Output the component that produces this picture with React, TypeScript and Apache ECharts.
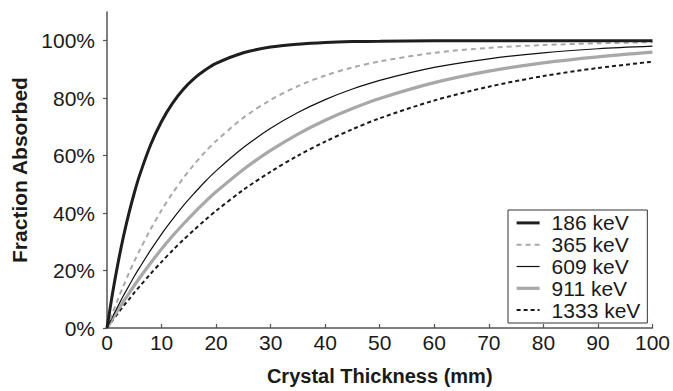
import React, { useEffect, useRef } from "react";
import * as echarts from "echarts";

const thickness = [0, 1, 2, 3, 4, 5, 6, 8, 10, 12, 14, 16, 18, 20, 25, 30, 35, 40, 45, 50, 60, 70, 80, 90, 100];
const kev186 = [0, 11.9, 22.4, 31.7, 39.8, 47.0, 53.3, 63.8, 71.9, 78.2, 83.1, 86.9, 89.8, 92.1, 95.8, 97.8, 98.8, 99.4, 99.7, 99.8, 100, 100, 100, 100, 100];
const kev365 = [0, 5.1, 10.0, 14.6, 19.0, 23.2, 27.1, 34.4, 41.0, 46.9, 52.2, 57.0, 61.3, 65.1, 73.2, 79.4, 84.2, 87.9, 90.7, 92.8, 95.8, 97.5, 98.5, 99.1, 99.5];
const kev609 = [0, 3.9, 7.6, 11.2, 14.6, 18.0, 21.1, 27.1, 32.7, 37.8, 42.6, 46.9, 51.0, 54.7, 62.8, 69.5, 75.0, 79.5, 83.2, 86.2, 90.7, 93.7, 95.8, 97.2, 98.1];
const kev911 = [0, 3.2, 6.2, 9.2, 12.0, 14.8, 17.5, 22.6, 27.5, 32.0, 36.2, 40.2, 43.9, 47.4, 55.2, 61.8, 67.5, 72.3, 76.4, 79.9, 85.4, 89.4, 92.3, 94.4, 96.0];
const kev1333 = [0, 2.6, 5.1, 7.6, 9.9, 12.3, 14.5, 18.9, 23.0, 27.0, 30.7, 34.2, 37.6, 40.8, 48.1, 54.4, 60.0, 64.9, 69.2, 73.0, 79.2, 84.0, 87.7, 90.5, 92.7];
const seriesNames = ["186 keV", "365 keV", "609 keV", "911 keV", "1333 keV"];
const yTicks = [0, 20, 40, 60, 80, 100];

const FONT = "'Liberation Sans', Arial, sans-serif";

export default function App() {
  const ref = useRef<HTMLDivElement>(null);
  useEffect(() => {
    if (!ref.current) return;
    const chart = echarts.init(ref.current, null, { renderer: "svg" });
    const pair = (arr: number[]) => thickness.map((x, i) => [x, arr[i]]);
    const styles: any[] = [
      { color: "#1e1e1e", width: 3, type: "solid" },
      { color: "#a8a8a8", width: 2, type: [5, 4] },
      { color: "#111111", width: 1.2, type: "solid" },
      { color: "#a8a8a8", width: 3.2, type: "solid" },
      { color: "#1a1a1a", width: 2, type: [4, 3] },
    ];
    const data = [kev186, kev365, kev609, kev911, kev1333];
    chart.setOption({
      animation: false,
      backgroundColor: "#ffffff",
      textStyle: { fontFamily: FONT },
      grid: { left: 107, right: 20, top: 12, bottom: 59, containLabel: false },
      legend: {
        orient: "vertical",
        left: 508,
        top: 210,
        padding: [2, 7, 2, 7],
        itemGap: 0,
        itemWidth: 23,
        itemHeight: 14,
        borderColor: "#333",
        borderWidth: 1,
        borderRadius: 0,
        backgroundColor: "#fff",
        data: seriesNames.map((n, i) => ({
          name: n,
          lineStyle: { color: styles[i].color, width: styles[i].width, type: styles[i].type },
        })),
        itemStyle: { opacity: 0 },
        textStyle: { fontSize: 21, color: "#1a1a1a", fontFamily: FONT, lineHeight: 21.8, padding: [0, 0, 0, 7] },
      },
      xAxis: {
        type: "value",
        min: 0,
        max: 100,
        interval: 10,
        name: "Crystal Thickness (mm)",
        nameLocation: "middle",
        nameGap: 38,
        nameTextStyle: { fontSize: 20, fontWeight: "bold", color: "#1a1a1a", fontFamily: FONT },
        axisLine: { lineStyle: { color: "#555", width: 1.5 } },
        axisTick: { inside: true, length: 4, lineStyle: { color: "#555", width: 1.2 } },
        axisLabel: { fontSize: 21, color: "#1a1a1a", margin: 4, fontFamily: FONT },
        splitLine: { show: false },
      },
      yAxis: {
        type: "value",
        min: 0,
        max: 110,
        interval: 20,
        name: "Fraction Absorbed",
        nameLocation: "middle",
        nameGap: 74,
        nameTextStyle: { fontSize: 21, fontWeight: "bold", color: "#1a1a1a", fontFamily: FONT },
        axisLine: { show: true, lineStyle: { color: "#555", width: 1.5 } },
        axisTick: { show: true, length: 4, customValues: yTicks, lineStyle: { color: "#555", width: 1.2 } },
        axisLabel: { fontSize: 21, color: "#1a1a1a", margin: 12, customValues: yTicks, formatter: "{value}%", fontFamily: FONT },
        splitLine: { show: false },
      },
      series: data.map((arr, i) => ({
        name: seriesNames[i],
        type: "line",
        data: pair(arr),
        symbol: "none",
        smooth: 0.3,
        color: styles[i].color,
        lineStyle: styles[i],
        z: 10 - i,
      })),
    });
    return () => chart.dispose();
  }, []);
  return <div ref={ref} style={{ position: "absolute", left: 0, top: 0, width: 673, height: 391 }} />;
}
